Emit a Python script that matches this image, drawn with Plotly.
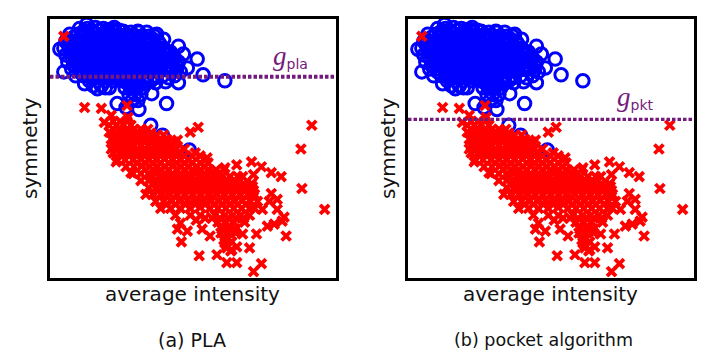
import plotly.graph_objects as go

# average intensity / symmetry (arbitrary units)
blue_x = [78,86,94,102,110,118,
 68,76,84,92,100,108,116,124,132,140,148,154,
 64,72,80,88,96,104,112,120,128,136,144,152,158,
 62,70,78,86,94,102,110,118,126,134,142,150,158,163,
 64,72,80,88,96,104,112,120,128,136,144,152,160,167,
 66,74,82,90,98,106,114,122,130,138,146,154,162,170,
 70,78,86,94,102,110,118,126,134,142,150,158,166,172,
 74,82,90,98,106,114,122,130,138,146,154,162,
 88,96,104,112,120,128,136,144,150,
 124,130,136,142,128,134,140,131,137,
 58,62,67,85,113,137,156,163,178,183,187,197,203,225,178,168,155,151,166,138,116,108,100,83,150,162,189,125,172,176,
 82,90,98,106,114,122,130,138,146,
 72,80,88,96,104,112,120,128,136,144,152,
 66,74,82,90,98,106,114,122,130,138,146,154,160,
 68,76,84,92,100,108,116,124,132,140,148,156,164,
 70,78,86,94,102,110,118,126,134,142,150,158,166,
 72,80,88,96,104,112,120,128,136,144,152,160,168,
 78,86,94,102,110,118,126,134,142,150,158,
 90,98,106,114,122,130,138,146,154,
 127,133,139,145,
 170,174,176,178,180,174,165,92,104,96]
blue_y = [252,252,253,252,251,250,
 246,246,247,247,246,246,245,245,245,244,244,244,
 239,239,239,239,239,239,239,239,239,239,238,238,238,
 232,232,232,232,232,232,232,232,232,232,232,232,232,232,
 225,225,225,225,225,225,225,225,225,225,225,225,225,225,
 218,218,218,218,218,218,218,218,218,218,218,218,218,218,
 211,211,211,211,211,211,211,211,211,211,211,211,211,211,
 204,204,204,204,204,204,204,204,204,204,204,204,
 199,199,199,199,199,199,199,199,199,
 192,192,192,192,185,185,185,179,179,
 231,208,240,256,253,249,246,241,234,226,212,221,205,199,197,202,197,186,176,170,176,192,194,196,154,144,129,172,222,210,
 249,250,250,250,249,249,248,248,248,
 243,243,243,243,243,243,243,242,242,242,241,
 236,236,236,236,236,236,236,236,236,236,236,235,235,
 229,229,229,229,229,229,229,229,229,229,229,229,229,
 222,222,222,222,222,222,222,222,222,222,222,222,222,
 215,215,215,215,215,215,215,215,215,215,215,215,215,
 208,208,208,208,208,208,208,208,208,208,208,
 202,202,202,202,202,202,202,202,202,
 196,196,196,196,
 228,222,214,218,208,204,198,194,192,191]

red_x = [62,83,100,126,313,198,190,177,110,103,127,
 302,303,326,282,272,262,252,237,225,254,243,253,272,278,278,285,275,287,263,257,243,227,217,199,227,237,262,254,181,177,187,210,202,130,145,115,195,207,
 108,115,122,130,
 108,115,122,129,136,143,150,
 110,117,124,131,138,145,152,159,166,
 112,119,126,133,140,147,154,161,170,
 112,120,128,136,144,152,160,168,178,
 116,124,132,140,148,156,164,172,180,188,
 125,133,141,149,157,165,173,181,189,197,205,
 132,140,148,156,164,172,180,188,196,204,215,
 140,148,156,164,172,180,188,196,204,212,220,228,235,
 148,156,164,172,180,188,196,204,212,220,228,236,245,
 152,160,168,176,184,192,200,208,216,224,232,240,248,255,
 155,163,171,179,187,195,203,211,219,227,235,243,251,258,
 160,170,180,190,200,210,218,226,234,242,250,255,
 175,190,200,215,225,233,241,250,
 218,226,234,245,
 222,229,236,
 225,232,
 270,283,268,231,224,250,180,196,
 112,119,126,
 112,119,126,133,140,147,
 114,121,128,135,142,149,156,163,
 116,123,130,137,144,151,158,166,174,
 120,128,136,144,152,160,168,176,184,
 128,136,144,152,160,168,176,184,192,200,
 136,144,152,160,168,176,184,192,200,208,
 144,152,160,168,176,184,192,200,208,216,224,
 150,158,166,174,182,190,198,206,214,222,230,238,
 156,164,172,180,188,196,204,212,220,228,236,244,252,
 158,166,174,182,190,198,206,214,222,230,238,246,254,
 166,175,185,195,205,214,222,230,238,246,
 205,212,220,228,236,244,
 221,228,236,
 120,114,110,227,232,237]
red_y = [244,172,171,174,154,152,147,139,164,157,162,
 130,90,69,102,106,112,117,114,111,104,102,92,85,79,69,61,54,42,69,44,44,32,23,22,15,15,14,6,36,49,47,42,49,106,84,117,126,121,
 154,154,155,154,
 147,147,147,148,147,147,146,
 140,141,140,140,140,141,140,139,140,
 133,133,134,133,133,134,133,133,133,
 126,126,126,126,127,126,126,126,126,
 119,119,119,120,119,119,120,119,119,119,
 112,112,113,112,112,112,113,112,112,112,112,
 105,105,105,106,105,105,105,105,106,105,105,
 98,98,98,98,99,98,98,98,98,99,98,98,98,
 91,91,91,91,91,92,91,91,91,91,91,91,91,
 84,84,85,84,84,84,84,84,85,84,84,84,84,84,
 77,77,77,77,78,77,77,77,77,77,77,78,77,77,
 70,70,70,70,71,70,70,70,70,70,70,70,
 63,63,63,63,63,63,63,63,
 56,56,56,56,
 49,49,49,
 35,36,
 77,57,52,27,38,30,55,58,
 158,158,158,
 150,150,150,150,150,150,
 144,144,144,144,144,144,144,144,
 137,137,137,137,137,137,137,137,137,
 130,130,130,130,130,130,130,130,130,
 123,123,123,123,123,123,123,123,123,123,
 116,116,116,116,116,116,116,116,116,116,
 109,109,109,109,109,109,109,109,109,109,109,
 102,102,102,102,102,102,102,102,102,102,102,102,
 95,95,95,95,95,95,95,95,95,95,95,95,95,
 88,88,88,88,88,88,88,88,88,88,88,88,88,
 74,74,74,74,74,74,74,74,74,74,
 60,60,60,60,60,60,
 45,45,45,
 148,140,130,30,28,31]

pla_line = 203
pkt_line = 160
titles = ["average intensity", "average intensity"]
ylabel = "symmetry"
captions = ["(a) PLA", "(b) pocket algorithm"]
FONT = "DejaVu Sans"
PURPLE = "#751a7d"

W, H = 720, 360
fig = go.Figure()
panels = [("x", "y", pla_line, 4), ("x2", "y2", pkt_line, 3.2)]
for xa, ya, level, lw in panels:
    fig.add_trace(go.Scatter(x=blue_x, y=blue_y, xaxis=xa, yaxis=ya, mode="markers", showlegend=False,
        marker=dict(symbol="circle-open", size=12.5, color="#0000ff", line=dict(width=3, color="#0000ff"))))
    fig.add_trace(go.Scatter(x=red_x, y=red_y, xaxis=xa, yaxis=ya, mode="markers", showlegend=False,
        marker=dict(symbol="x-thin-open", size=9, color="#ff0000", line=dict(width=3.8, color="#ff0000"))))
    fig.add_trace(go.Scatter(x=[48, 337], y=[level, level], xaxis=xa, yaxis=ya, mode="lines", showlegend=False,
        line=dict(color=PURPLE, width=lw, dash="3.5px,2px")))

axis = dict(range=[48, 337], showgrid=False, zeroline=False, showticklabels=False, ticks="",
            showline=True, linecolor="black", linewidth=3, mirror=True)
yaxis = dict(axis, range=[0, 262])
d1 = [50/W, 335.5/W]; d2 = [408/W, 693.5/W]; dy = [1-277.5/H, 1-18.5/H]
fig.update_layout(
    width=W, height=H, margin=dict(l=0, r=0, t=0, b=0), paper_bgcolor="white", plot_bgcolor="white",
    font=dict(family=FONT, color="#111111"),
    xaxis=dict(axis, domain=d1), yaxis=dict(yaxis, domain=dy, anchor="x"),
    xaxis2=dict(axis, domain=d2, anchor="y2"), yaxis2=dict(yaxis, domain=dy, anchor="x2"),
)

def note(px, py, text, size, color="#111111", angle=0):
    fig.add_annotation(xref="paper", yref="paper", x=px/W, y=1-py/H, text=text, showarrow=False,
                       font=dict(size=size, color=color, family=FONT), textangle=angle,
                       xanchor="center", yanchor="middle")

note(192, 294, titles[0], 20)
note(550, 294, titles[1], 20)
note(30, 148, ylabel, 20, angle=-90)
note(388, 148, ylabel, 20, angle=-90)
note(192, 340, captions[0], 19)
note(543, 340, captions[1], 17.5)
G = '<span style="font-family:Liberation Serif;font-size:27px"><i>g</i></span>'
note(290, 56, G + '<sub>pla</sub>', 20, color=PURPLE)
note(635, 98, G + '<sub>pkt</sub>', 20, color=PURPLE)

fig.write_html("out.html", config={"displayModeBar": False},
               post_script="document.body.style.margin='0';document.documentElement.style.margin='0';")
